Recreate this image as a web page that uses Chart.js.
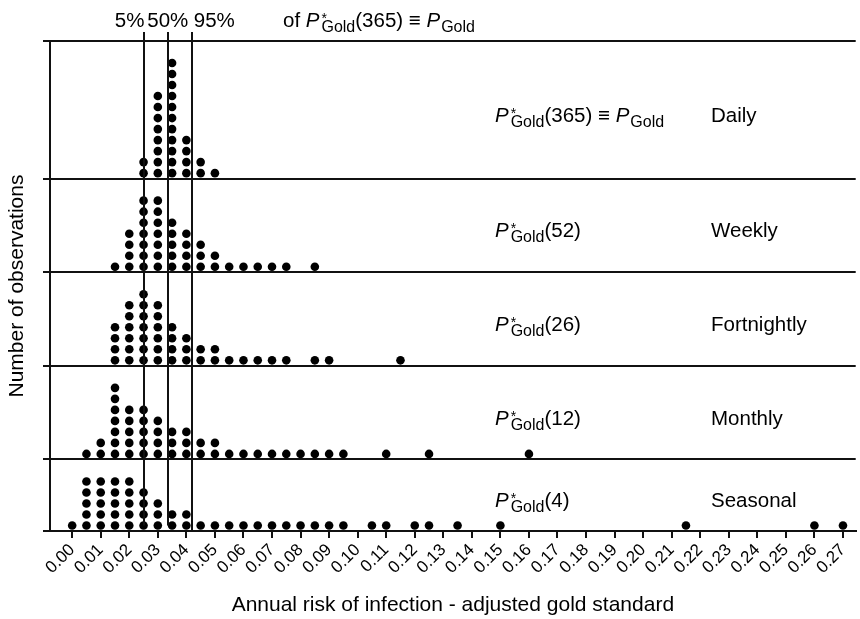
<!DOCTYPE html>
<html>
<head>
<meta charset="utf-8">
<script src="https://cdn.jsdelivr.net/npm/chart.js@4.4.1/dist/chart.umd.min.js"></script>
<style>
  html, body { margin: 0; padding: 0; background: #fff; }
</style>
</head>
<body>
<canvas id="dotChart" width="860" height="619"></canvas>
<script>
// bins (annual risk) and number of dots stacked in each bin, per panel
var dailyBins   = [0.025, 0.03, 0.035, 0.04, 0.045, 0.05];
var dailyCounts = [2, 8, 11, 4, 2, 1];

var weeklyBins   = [0.015, 0.02, 0.025, 0.03, 0.035, 0.04, 0.045, 0.05, 0.055, 0.06, 0.065, 0.07, 0.075, 0.085];
var weeklyCounts = [1, 4, 7, 7, 5, 4, 3, 2, 1, 1, 1, 1, 1, 1];

var fortnightlyBins   = [0.015, 0.02, 0.025, 0.03, 0.035, 0.04, 0.045, 0.05, 0.055, 0.06, 0.065, 0.07, 0.075, 0.085, 0.09, 0.115];
var fortnightlyCounts = [4, 6, 7, 6, 4, 3, 2, 2, 1, 1, 1, 1, 1, 1, 1, 1];

var monthlyBins   = [0.005, 0.01, 0.015, 0.02, 0.025, 0.03, 0.035, 0.04, 0.045, 0.05, 0.055, 0.06, 0.065, 0.07, 0.075, 0.08, 0.085, 0.09, 0.095, 0.11, 0.125, 0.16];
var monthlyCounts = [1, 2, 7, 5, 5, 4, 3, 3, 2, 2, 1, 1, 1, 1, 1, 1, 1, 1, 1, 1, 1, 1];

var seasonalBins   = [0, 0.005, 0.01, 0.015, 0.02, 0.025, 0.03, 0.035, 0.04, 0.045, 0.05, 0.055, 0.06, 0.065, 0.07, 0.075, 0.08, 0.085, 0.09, 0.095, 0.105, 0.11, 0.12, 0.125, 0.135, 0.15, 0.215, 0.26, 0.27];
var seasonalCounts = [1, 5, 5, 5, 5, 4, 3, 2, 2, 1, 1, 1, 1, 1, 1, 1, 1, 1, 1, 1, 1, 1, 1, 1, 1, 1, 1, 1, 1];

// panel labels (top to bottom) and where each panel starts on the stacked y axis
var panelSuffix = ['(365)', '(52)', '(26)', '(12)', '(4)'];
var panelNames  = ['Daily', 'Weekly', 'Fortnightly', 'Monthly', 'Seasonal'];
var panelBase   = [32, 23.5, 15, 6.5, 0];
var panelTop    = [44.5, 32, 23.5, 15, 6.5];

// percentiles of P*Gold(365)
var pctValues = [0.0253, 0.0335, 0.0419];
var pctLabels = ['5%', '50%', '95%'];

var xTickLabels = ['0.00','0.01','0.02','0.03','0.04','0.05','0.06','0.07','0.08','0.09',
                   '0.10','0.11','0.12','0.13','0.14','0.15','0.16','0.17','0.18','0.19',
                   '0.20','0.21','0.22','0.23','0.24','0.25','0.26','0.27'];

var FONT = '"Liberation Sans", Arial, Helvetica, sans-serif';
var INK = '#111';

// stack every count into dots above the panel floor
function dots(bins, counts, base) {
  var pts = [];
  bins.forEach(function(b, i) {
    for (var k = 0; k < counts[i]; k++) pts.push({x: b, y: base + k + 0.5});
  });
  return pts;
}

var allBins = [dailyBins, weeklyBins, fortnightlyBins, monthlyBins, seasonalBins];
var allCounts = [dailyCounts, weeklyCounts, fortnightlyCounts, monthlyCounts, seasonalCounts];

var datasets = allBins.map(function(b, i) {
  return {
    label: panelNames[i],
    data: dots(b, allCounts[i], panelBase[i]),
    pointRadius: 4.3,
    pointBackgroundColor: '#000',
    pointBorderWidth: 0
  };
});

// P*Gold style text: italic P, star above, Gold below
function drawP(ctx, x, y) {
  ctx.font = 'italic 20.5px ' + FONT;
  ctx.fillText('P', x, y);
  x += ctx.measureText('P').width + 2;
  ctx.font = '14px ' + FONT;
  ctx.fillText('*', x, y - 4);
  ctx.font = '16px ' + FONT;
  ctx.fillText('Gold', x, y + 5);
  return x + ctx.measureText('Gold').width;
}
function drawPlain(ctx, x, y, t) {
  ctx.font = '20.5px ' + FONT;
  ctx.fillText(t, x, y);
  return x + ctx.measureText(t).width;
}
function drawPGold(ctx, x, y) {
  ctx.font = 'italic 20.5px ' + FONT;
  ctx.fillText('P', x, y);
  x += ctx.measureText('P').width + 1;
  ctx.font = '16px ' + FONT;
  ctx.fillText('Gold', x, y + 5);
  return x + ctx.measureText('Gold').width;
}

var annotations = {
  id: 'annotations',
  afterDraw: function(chart) {
    var ctx = chart.ctx, xs = chart.scales.x, ys = chart.scales.y, area = chart.chartArea;
    ctx.save();
    ctx.strokeStyle = INK;
    ctx.lineWidth = 2;
    pctValues.forEach(function(v, i) {
      var px = Math.round(xs.getPixelForValue(v));
      var bottom = i < 2 ? ys.getPixelForValue(0.5) : area.bottom;
      ctx.beginPath();
      ctx.moveTo(px, area.top - 9);
      ctx.lineTo(px, bottom);
      ctx.stroke();
    });
    ctx.fillStyle = '#000';
    ctx.textBaseline = 'alphabetic';
    ctx.font = '20.5px ' + FONT;
    var aligns = ['right', 'center', 'left'];
    pctValues.forEach(function(v, i) {
      ctx.textAlign = aligns[i];
      ctx.fillText(pctLabels[i], xs.getPixelForValue(v) + (i === 2 ? 2 : 0), 27);
    });
    ctx.textAlign = 'left';
    var hx = drawPlain(ctx, 283, 27, 'of ');
    hx = drawP(ctx, hx, 27);
    hx = drawPlain(ctx, hx, 27, '(365) \u2261 ');
    drawPGold(ctx, hx, 27);

    panelNames.forEach(function(name, i) {
      var mid = (ys.getPixelForValue(panelBase[i]) + ys.getPixelForValue(panelTop[i])) / 2;
      var by = mid + 12;
      var x = drawP(ctx, 495, by);
      x = drawPlain(ctx, x, by, panelSuffix[i]);
      if (i === 0) {
        x = drawPlain(ctx, x, by, ' \u2261 ');
        drawPGold(ctx, x, by);
      }
      drawPlain(ctx, 711, by, name);
    });
    ctx.restore();
  }
};

new Chart(document.getElementById('dotChart'), {
  type: 'scatter',
  data: { datasets: datasets },
  options: {
    responsive: false,
    animation: false,
    devicePixelRatio: 1,
    events: [],
    layout: { padding: { top: 41, right: 0, left: 0, bottom: 0 } },
    plugins: { legend: { display: false }, tooltip: { enabled: false } },
    scales: {
      x: {
        type: 'linear',
        min: -0.00777,
        max: 0.27446,
        afterBuildTicks: function(scale) {
          scale.ticks = xTickLabels.map(function(t) { return { value: parseFloat(t) }; });
        },
        afterFit: function(scale) {
          scale.height = 88;
          scale.paddingLeft = 0;
          scale.paddingRight = 0;
        },
        ticks: {
          autoSkip: false,
          maxRotation: 45,
          minRotation: 45,
          color: '#000',
          font: { size: 17, family: FONT },
          padding: 2,
          callback: function(v) { return Number(v).toFixed(2); }
        },
        grid: { drawOnChartArea: false, drawTicks: true, tickLength: 7, color: INK, lineWidth: 2 },
        border: { display: true, color: INK, width: 2 },
        title: {
          display: true,
          text: 'Annual risk of infection - adjusted gold standard',
          color: '#000',
          font: { size: 21, family: FONT },
          padding: { top: 0, bottom: 1 }
        }
      },
      y: {
        type: 'linear',
        min: 0,
        max: 44.5,
        afterBuildTicks: function(scale) {
          scale.ticks = [0, 6.5, 15, 23.5, 32, 44.5].map(function(v) { return { value: v }; });
        },
        afterFit: function(scale) { scale.width = 50; },
        ticks: { display: false },
        grid: { drawOnChartArea: true, drawTicks: true, tickLength: 7, color: INK, lineWidth: 2 },
        border: { display: true, color: INK, width: 2 },
        title: {
          display: true,
          text: 'Number of observations',
          color: '#000',
          font: { size: 21, family: FONT },
          padding: { top: 5, bottom: 0 }
        }
      }
    }
  },
  plugins: [annotations]
});
</script>
</body>
</html>
